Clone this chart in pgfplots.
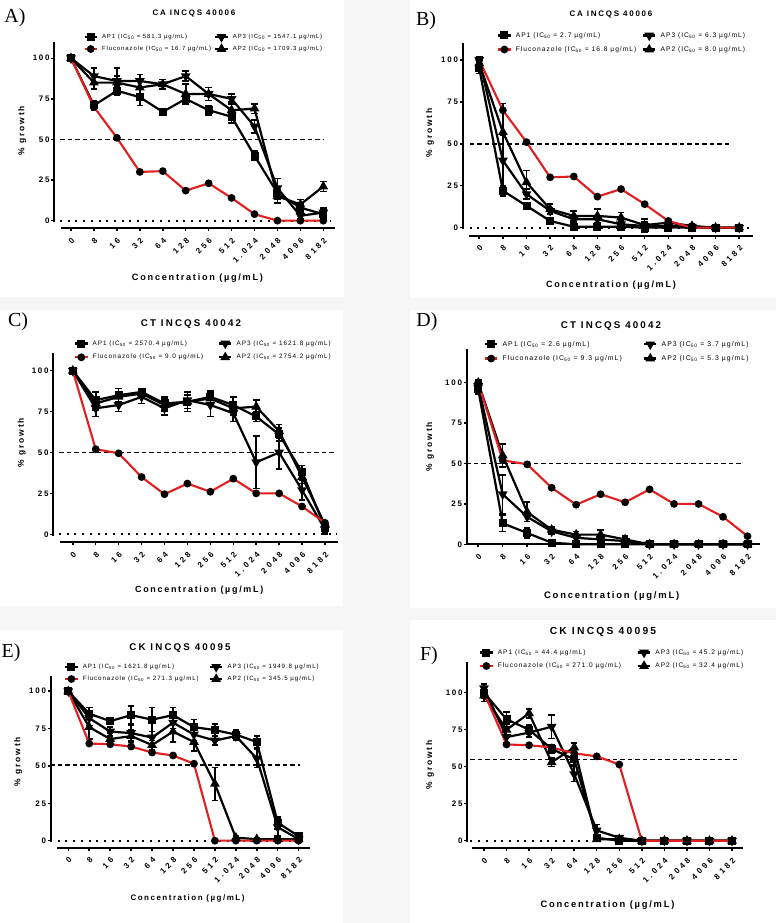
\documentclass[border=0pt]{standalone}
\usepackage{fontspec}
\setmainfont{Liberation Sans}
\usepackage{pgfplots}
\pgfplotsset{compat=1.18}
\newfontfamily\sps[LetterSpace=19]{Liberation Sans}
\newfontfamily\spt[LetterSpace=22]{Liberation Sans}
\newfontfamily\spy[LetterSpace=22]{Liberation Sans}
\newfontfamily\spx[LetterSpace=36]{Liberation Sans}
\newfontfamily\spl[LetterSpace=15]{Liberation Sans}
\newfontfamily\serif{Liberation Serif}
\definecolor{myred}{RGB}{226,30,30}
\definecolor{bgg}{RGB}{246,246,246}

\pgfplotsset{
 panel/.style={scale only axis, clip=false, anchor=south west,
   axis lines*=left, axis line style={draw=none},
   xtick={0,...,11}, xticklabels={0,8,16,32,64,128,256,512,{1.024},2048,4096,8182},
   ytick={0,25,50,75,100}, yticklabels={0,25,50,75,100},
   tick style={black, line width=1.5bp}, major tick length=3bp, tick align=outside,
   xticklabel style={font=\spx\bfseries\fontsize{8}{8}\selectfont, rotate=45, anchor=north east, inner sep=1bp},
   xticklabel shift=4.5bp,
   yticklabel style={font=\spy\bfseries\fontsize{8}{9}\selectfont, anchor=east, inner sep=1.5bp},
   legend columns=2, legend cell align=left,
   legend image code/.code={\draw[mark repeat=2,mark phase=2,##1] plot coordinates {(0bp,0bp) (6.2bp,0bp) (12.4bp,0bp)};},
   legend style={anchor=west, draw=none, fill=none, inner sep=0pt, nodes={inner sep=0.6bp},
     /tikz/every odd column/.append style={column sep=3.5bp}},
 },
 eb/.style={error bars/.cd, y dir=both, y explicit, error bar style={line width=1.6bp, solid},
   error mark options={rotate=90, mark size=3.3bp, line width=1.6bp, black}},
 apA/.style={black, line width=2.2bp, mark=square*, mark size=2.9bp, mark options={solid}, forget plot, eb},
 apB/.style={black, line width=2.2bp, mark=triangle*, mark size=3.5bp, mark options={solid, rotate=180}, forget plot, eb},
 apC/.style={black, line width=2.2bp, mark=triangle*, mark size=3.5bp, mark options={solid}, forget plot, eb},
 flu/.style={myred, line width=2.1bp, mark=*, mark size=2.8bp, mark options={solid, fill=black, draw=black}, forget plot},
 dash50/.style={black, line width=1.4bp, dash pattern=on 4.5bp off 3bp, forget plot},
 dot0/.style={black, line width=2bp, dash pattern=on 2bp off 5.7bp, forget plot},
}
\newcommand{\legs}[4]{%
 \addlegendimage{black, line width=2.2bp, mark=square*, mark size=2.9bp}
 \addlegendentry{AP1 (IC\textsubscript{50} = #1 µg/mL)}
 \addlegendimage{black, line width=2.2bp, mark=triangle*, mark size=3.5bp, mark options={rotate=180}}
 \addlegendentry{AP3 (IC\textsubscript{50} = #2 µg/mL)}
 \addlegendimage{myred, line width=2.1bp, mark=*, mark size=2.8bp, mark options={fill=black, draw=black}}
 \addlegendentry{Fluconazole (IC\textsubscript{50} = #3 µg/mL)}
 \addlegendimage{black, line width=2.2bp, mark=triangle*, mark size=3.5bp}
 \addlegendentry{AP2 (IC\textsubscript{50} = #4 µg/mL)}
}
\newcommand{\ttl}[1]{\spt\bfseries\fontsize{#1}{#1}\selectfont}
\newcommand{\xlb}[1]{\sps\bfseries\fontsize{#1}{#1}\selectfont}
\newcommand{\ylb}{\spy\bfseries\fontsize{8.5}{9}\selectfont}
\newcommand{\plab}{\serif\fontsize{20}{22}\selectfont}
\newcommand{\lf}[1]{\spl\fontsize{#1}{#1}\selectfont}

\begin{document}
\begin{tikzpicture}
\path[use as bounding box] (0bp,0bp) rectangle (776bp,923bp);
\fill[bgg] (0bp,0bp) rectangle (776bp,923bp);
\fill[white] (0bp,626bp) rectangle (344bp,923bp);
\fill[white] (410bp,625bp) rectangle (776bp,923bp);
\fill[white] (0bp,317bp) rectangle (343bp,613bp);
\fill[white] (410bp,315bp) rectangle (776bp,613bp);
\fill[white] (0bp,0bp) rectangle (343bp,293bp);
\fill[white] (410bp,0bp) rectangle (776bp,303bp);

% ---------------- A ----------------
\begin{axis}[panel, at={(54.3bp,694.7bp)}, width=280.7bp, height=186.6bp,
  xmin=-0.73, xmax=11.51, ymin=-4.7, ymax=110.2,
  legend style={at={(axis description cs:0.103,0.993)}, row sep=5bp,
    font=\lf{6},
    /tikz/every even column/.append style={column sep=2.5bp}}]
\addplot[dash50] coordinates {(-0.48,50) (11.0,50)};
\addplot[dot0] coordinates {(-0.48,0) (11.3,0)};
\addplot[apA] table[row sep=\\, y error index=2] {0 100 1\\1 71 3\\2 80 3\\3 76 5\\4 67 2\\5 75 3\\6 68 3\\7 64 4\\8 40 3\\9 17 4\\10 8 3\\11 4 3\\};
\addplot[apB] table[row sep=\\, y error index=2] {0 100 1\\1 89 5\\2 86 8\\3 86 4\\4 84 3\\5 89 3\\6 78 4\\7 75 3\\8 58 4\\9 20 6\\10 3 2\\11 5 3\\};
\addplot[apC] table[row sep=\\, y error index=2] {0 100 1\\1 85 4\\2 85 4\\3 82 5\\4 84 3\\5 78 6\\6 78 4\\7 68 5\\8 69 3\\9 15 4\\10 10 3\\11 21 3\\};
\addplot[flu] coordinates {(0,100) (1,70) (2,51) (3,30) (4,30.5) (5,18.5) (6,23) (7,14) (8,4) (9,0) (10,0) (11,0)};
\legs{581.3}{1547.1}{16.7}{1709.3}
\draw[line width=2.2bp] (axis cs:-0.73,-0.8) -- (axis cs:-0.73,110.2);
\draw[line width=2.2bp] (axis cs:-0.44,-4.7) -- (axis cs:11.51,-4.7);
\end{axis}

% ---------------- B ----------------
\begin{axis}[panel, at={(462.7bp,687.3bp)}, width=290bp, height=193bp,
  xmin=-0.70, xmax=11.57, ymin=-4.8, ymax=110.3,
  legend style={at={(axis description cs:0.118,1.001)}, row sep=6.5bp,
    font=\lf{6.7},
    /tikz/every even column/.append style={column sep=5bp}}]
\addplot[dash50] coordinates {(-0.4,50) (10.6,50)};
\addplot[dot0] coordinates {(-0.4,0) (11.6,0)};
\addplot[apA] table[row sep=\\, y error index=2] {0 95 3\\1 22 3\\2 13 2\\3 4 1\\4 0.5 1\\5 0.5 1\\6 0.5 1\\7 0 1\\8 0 0.5\\9 0 0.5\\10 0 0\\11 0 0\\};
\addplot[apB] table[row sep=\\, y error index=2] {0 100 2\\1 40 15\\2 20 3\\3 10 2\\4 5 2\\5 5 2\\6 2 2\\7 1 4\\8 1 1\\9 0.5 1\\10 0 0\\11 0 0\\};
\addplot[apC] table[row sep=\\, y error index=2] {0 98 3\\1 57 17\\2 27 7\\3 11 3\\4 7 3\\5 7 4\\6 6 3\\7 1.5 2\\8 3 1\\9 1 1\\10 0 0\\11 0 0\\};
\addplot[flu] coordinates {(0,100) (1,70) (2,51) (3,30) (4,30.5) (5,18.5) (6,23) (7,14) (8,4) (9,0) (10,0) (11,0)};
\legs{2.7}{6.3}{16.8}{8.0}
\draw[line width=2.2bp] (axis cs:-0.70,-0.8) -- (axis cs:-0.70,110.3);
\draw[line width=2.2bp] (axis cs:-0.42,-4.8) -- (axis cs:11.57,-4.8);
\end{axis}

% ---------------- C ----------------
\begin{axis}[panel, at={(53.3bp,380.7bp)}, width=285bp, height=189.6bp,
  xmin=-0.85, xmax=11.58, ymin=-4.9, ymax=111,
  legend style={at={(axis description cs:0.072,1.012)}, row sep=6.5bp,
    font=\lf{6.4},
    /tikz/every even column/.append style={column sep=14bp}}]
\addplot[dash50] coordinates {(-0.6,50) (11.5,50)};
\addplot[dot0] coordinates {(-0.6,0) (11.5,0)};
\addplot[apA] table[row sep=\\, y error index=2] {0 100 1\\1 82 5\\2 85 4\\3 87 2\\4 80 4\\5 81 6\\6 84 4\\7 79 5\\8 72 3\\9 61 4\\10 38 4\\11 4 3\\};
\addplot[apB] table[row sep=\\, y error index=2] {0 100 1\\1 77 5\\2 79 4\\3 84 4\\4 77 4\\5 82 5\\6 79 7\\7 74 5\\8 44 16\\9 50 10\\10 27 6\\11 3 3\\};
\addplot[apC] table[row sep=\\, y error index=2] {0 100 1\\1 80 4\\2 84 5\\3 86 3\\4 79 4\\5 81 4\\6 83 4\\7 77 4\\8 78 4\\9 63 4\\10 35 4\\11 6 2\\};
\addplot[flu] coordinates {(0,100) (1,52) (2,49.5) (3,35) (4,24.5) (5,31) (6,26) (7,34) (8,25) (9,25) (10,17) (11,7)};
\legs{2570.4}{1621.8}{9.0}{2754.2}
\draw[line width=2.2bp] (axis cs:-0.85,-0.8) -- (axis cs:-0.85,111);
\draw[line width=2.2bp] (axis cs:-0.55,-4.9) -- (axis cs:11.58,-4.9);
\end{axis}

% ---------------- D ----------------
\begin{axis}[panel, at={(466.7bp,378.7bp)}, width=293.3bp, height=195bp,
  xmin=-0.47, xmax=11.51, ymin=0, ymax=120.7,
  legend style={at={(axis description cs:0.058,0.989)}, row sep=6.5bp,
    font=\lf{6.9},
    /tikz/every even column/.append style={column sep=20.5bp}}]
\addplot[dash50] coordinates {(-0.48,50) (10.8,50)};
\addplot[apA] table[row sep=\\, y error index=2] {0 96 3\\1 13 5\\2 7 3\\3 1 1\\4 0 1\\5 0 1\\6 0 1\\7 0 0\\8 0 0\\9 0 0\\10 0 0\\11 0 0\\};
\addplot[apB] table[row sep=\\, y error index=2] {0 98 3\\1 31 12\\2 17 3\\3 8 2\\4 4 2\\5 3 2\\6 2 2\\7 0 0\\8 0 0\\9 0 0\\10 0 0\\11 0 0\\};
\addplot[apC] table[row sep=\\, y error index=2] {0 100 2\\1 55 7\\2 20 6\\3 9 2\\4 6 2\\5 6 3\\6 3 2\\7 0 0\\8 0 0\\9 0 0\\10 0 0\\11 0 0\\};
\addplot[flu] coordinates {(0,100) (1,52) (2,49.5) (3,35) (4,24.5) (5,31) (6,26) (7,34) (8,25) (9,25) (10,17) (11,5)};
\legs{2.6}{3.7}{9.3}{5.3}
\draw[line width=2.2bp] (axis cs:-0.47,0) -- (axis cs:-0.47,120.7);
\draw[line width=2.2bp] (axis cs:-0.47,0) -- (axis cs:11.51,0);
\end{axis}

% ---------------- E ----------------
\begin{axis}[panel, at={(50.7bp,75.3bp)}, width=259.3bp, height=172bp,
  xmin=-0.84, xmax=11.54, ymin=-4.7, ymax=110.4,
  legend style={at={(axis description cs:0.051,1.016)}, row sep=5bp,
    font=\lf{6.2},
    /tikz/every even column/.append style={column sep=9.5bp}}]
\addplot[dash50] coordinates {(-0.87,50.7) (11.05,50.7)};
\addplot[dot0] coordinates {(-0.87,0) (10.9,0)};
\addplot[apA] table[row sep=\\, y error index=2] {0 100 1\\1 85 4\\2 80 2\\3 84 6\\4 81 8\\5 84 5\\6 76 5\\7 74 4\\8 71 3\\9 66 4\\10 12 4\\11 3 2\\};
\addplot[apB] table[row sep=\\, y error index=2] {0 100 1\\1 82 5\\2 73 3\\3 72 5\\4 69 4\\5 79 4\\6 71 4\\7 67 3\\8 70 3\\9 55 6\\10 9 6\\11 1 2\\};
\addplot[apC] table[row sep=\\, y error index=2] {0 100 1\\1 76 8\\2 68 4\\3 70 4\\4 64 3\\5 73 7\\6 66 6\\7 38 11\\8 2 1\\9 1 1\\10 1 1\\11 1 1\\};
\addplot[flu] coordinates {(0,100) (1,65) (2,64.5) (3,63) (4,59) (5,57) (6,51.5) (7,0) (8,0) (9,0) (10,0) (11,0)};
\legs{1621.8}{1949.8}{271.3}{345.5}
\draw[line width=2.2bp] (axis cs:-0.84,-0.8) -- (axis cs:-0.84,110.4);
\draw[line width=2.2bp] (axis cs:-0.53,-4.7) -- (axis cs:11.54,-4.7);
\end{axis}

% ---------------- F ----------------
\begin{axis}[panel, at={(467.3bp,74.7bp)}, width=276bp, height=186.6bp,
  xmin=-0.74, xmax=11.5, ymin=-5.1, ymax=120.9,
  legend style={at={(axis description cs:0.042,1.013)}, row sep=6bp,
    font=\lf{6.6},
    /tikz/every even column/.append style={column sep=15bp}}]
\addplot[dash50] coordinates {(-0.6,55) (11.2,55)};
\addplot[dot0] coordinates {(-0.6,0) (4.8,0)};
\addplot[apA] table[row sep=\\, y error index=2] {0 100 4\\1 82 5\\2 75 3\\3 62 3\\4 55 4\\5 2 1\\6 0 1\\7 0 0\\8 0 0\\9 0 0\\10 0 0\\11 0 0\\};
\addplot[apB] table[row sep=\\, y error index=2] {0 103 3\\1 70 4\\2 73 3\\3 77 8\\4 45 5\\5 7 4\\6 2 1\\7 0 0\\8 0 0\\9 0 0\\10 0 0\\11 0 0\\};
\addplot[apC] table[row sep=\\, y error index=2] {0 98 4\\1 75 4\\2 86 3\\3 53 3\\4 63 3\\5 1 1\\6 1 1\\7 0 0\\8 0 0\\9 0 0\\10 0 0\\11 0 0\\};
\addplot[flu] coordinates {(0,100) (1,65) (2,64.5) (3,63) (4,59) (5,57) (6,51.5) (7,0) (8,0) (9,0) (10,0) (11,0)};
\legs{44.4}{45.2}{271.0}{32.4}
\draw[line width=2.2bp] (axis cs:-0.74,-0.8) -- (axis cs:-0.74,120.9);
\draw[line width=2.2bp] (axis cs:-0.55,-5.1) -- (axis cs:11.5,-5.1);
\end{axis}

% ---------- titles, labels ----------
\node[font=\ttl{8}] at (194bp,909bp) {CA INCQS 40006};
\node[font=\ttl{8}] at (611bp,908bp) {CA INCQS 40006};
\node[font=\ttl{9.8}] at (191bp,598.7bp) {CT INCQS 40042};
\node[font=\ttl{9.8}] at (611bp,597bp) {CT INCQS 40042};
\node[font=\ttl{9.8}] at (180bp,274.7bp) {CK INCQS 40095};
\node[font=\ttl{10.3}] at (603bp,290.7bp) {CK INCQS 40095};

\node[font=\ylb, rotate=90] at (22.3bp,792.3bp) {\% growth};
\node[font=\ylb, rotate=90] at (430bp,790bp) {\% growth};
\node[font=\ylb, rotate=90] at (21.7bp,480.5bp) {\% growth};
\node[font=\ylb, rotate=90] at (430bp,476.3bp) {\% growth};
\node[font=\ylb, rotate=90] at (18.3bp,161.3bp) {\% growth};
\node[font=\ylb, rotate=90] at (430bp,158bp) {\% growth};

\node[font=\xlb{9.2}] at (197.5bp,645bp) {Concentration (µg/mL)};
\node[font=\xlb{9.1}] at (611bp,638bp) {Concentration (µg/mL)};
\node[font=\xlb{9}] at (199.2bp,333bp) {Concentration (µg/mL)};
\node[font=\xlb{9.5}] at (611.7bp,327.2bp) {Concentration (µg/mL)};
\node[font=\xlb{8}] at (187.5bp,24.7bp) {Concentration (µg/mL)};
\node[font=\xlb{9.4}] at (607.5bp,18bp) {Concentration (µg/mL)};

\node[font=\plab] at (15bp,905bp) {A)};
\node[font=\plab] at (426bp,902bp) {B)};
\node[font=\plab] at (18bp,601bp) {C)};
\node[font=\plab] at (427bp,601bp) {D)};
\node[font=\plab] at (11bp,270bp) {E)};
\node[font=\plab] at (429bp,267bp) {F)};
\end{tikzpicture}
\end{document}
